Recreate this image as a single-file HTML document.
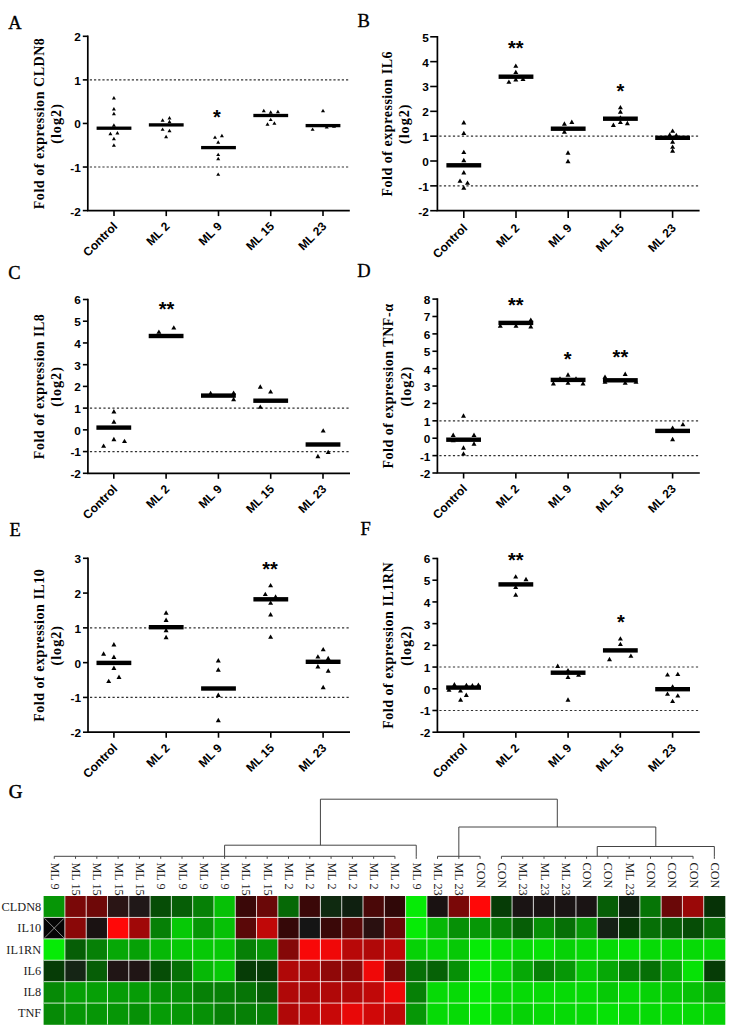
<!DOCTYPE html>
<html><head><meta charset="utf-8"><style>
html,body{margin:0;padding:0;background:#fff;}
svg{display:block;}
</style></head><body>
<svg width="730" height="1025" viewBox="0 0 730 1025">
<rect width="730" height="1025" fill="#fff"/>
<text x="8.3" y="28.6" stroke="#000" stroke-width="0.35" style='font-family:"Liberation Serif",serif;font-size:18.5px'>A</text>
<line x1="89.8" y1="79.88" x2="349.8" y2="79.88" stroke="#333" stroke-width="1.1" stroke-dasharray="2.2 2"/>
<line x1="89.8" y1="167.03" x2="349.8" y2="167.03" stroke="#333" stroke-width="1.1" stroke-dasharray="2.2 2"/>
<path d="M87.8 35.5V210.6H349.8" fill="none" stroke="#000" stroke-width="1.7"/>
<line x1="82.8" y1="210.6" x2="87.8" y2="210.6" stroke="#000" stroke-width="1.6"/>
<text x="80.8" y="215.5" text-anchor="end" style='font-family:"Liberation Sans",sans-serif;font-weight:bold;font-size:11.8px'>-2</text>
<line x1="82.8" y1="167.03" x2="87.8" y2="167.03" stroke="#000" stroke-width="1.6"/>
<text x="80.8" y="171.93" text-anchor="end" style='font-family:"Liberation Sans",sans-serif;font-weight:bold;font-size:11.8px'>-1</text>
<line x1="82.8" y1="123.45" x2="87.8" y2="123.45" stroke="#000" stroke-width="1.6"/>
<text x="80.8" y="128.35" text-anchor="end" style='font-family:"Liberation Sans",sans-serif;font-weight:bold;font-size:11.8px'>0</text>
<line x1="82.8" y1="79.88" x2="87.8" y2="79.88" stroke="#000" stroke-width="1.6"/>
<text x="80.8" y="84.78" text-anchor="end" style='font-family:"Liberation Sans",sans-serif;font-weight:bold;font-size:11.8px'>1</text>
<line x1="82.8" y1="36.3" x2="87.8" y2="36.3" stroke="#000" stroke-width="1.6"/>
<text x="80.8" y="41.2" text-anchor="end" style='font-family:"Liberation Sans",sans-serif;font-weight:bold;font-size:11.8px'>2</text>
<line x1="114" y1="210.6" x2="114" y2="216.1" stroke="#000" stroke-width="1.6"/>
<text transform="translate(118.2,227.1) rotate(-45)" text-anchor="end" style='font-family:"Liberation Sans",sans-serif;font-weight:bold;font-size:12px'>Control</text>
<line x1="166.25" y1="210.6" x2="166.25" y2="216.1" stroke="#000" stroke-width="1.6"/>
<text transform="translate(170.45,227.1) rotate(-45)" text-anchor="end" style='font-family:"Liberation Sans",sans-serif;font-weight:bold;font-size:12px'>ML 2</text>
<line x1="218.5" y1="210.6" x2="218.5" y2="216.1" stroke="#000" stroke-width="1.6"/>
<text transform="translate(222.7,227.1) rotate(-45)" text-anchor="end" style='font-family:"Liberation Sans",sans-serif;font-weight:bold;font-size:12px'>ML 9</text>
<line x1="270.75" y1="210.6" x2="270.75" y2="216.1" stroke="#000" stroke-width="1.6"/>
<text transform="translate(274.95,227.1) rotate(-45)" text-anchor="end" style='font-family:"Liberation Sans",sans-serif;font-weight:bold;font-size:12px'>ML 15</text>
<line x1="323" y1="210.6" x2="323" y2="216.1" stroke="#000" stroke-width="1.6"/>
<text transform="translate(327.2,227.1) rotate(-45)" text-anchor="end" style='font-family:"Liberation Sans",sans-serif;font-weight:bold;font-size:12px'>ML 23</text>
<text transform="translate(43.5,123.45) rotate(-90)" text-anchor="middle" style='font-family:"Liberation Serif",serif;font-weight:bold;font-size:14px;letter-spacing:0.53px'>Fold of expression CLDN8</text>
<text transform="translate(61.3,123.45) rotate(-90)" text-anchor="middle" style='font-family:"Liberation Serif",serif;font-weight:bold;font-size:14.2px;letter-spacing:1.0px'>(log2)</text>
<path d="M113.9 96.06l2 3.4h-4z"/>
<path d="M113.9 107.06l2 3.4h-4z"/>
<path d="M113.9 111.86l2 3.4h-4z"/>
<path d="M113.9 123.36l2 3.4h-4z"/>
<path d="M110.4 131.86l2 3.4h-4z"/>
<path d="M117.4 131.06l2 3.4h-4z"/>
<path d="M113.9 136.76l2 3.4h-4z"/>
<path d="M113.9 143.26l2 3.4h-4z"/>
<rect x="96.6" y="126.55" width="34.8" height="3.3"/>
<path d="M162.6 118.26l2 3.4h-4z"/>
<path d="M169.5 116.06l2 3.4h-4z"/>
<path d="M169.5 119.76l2 3.4h-4z"/>
<path d="M162.6 127.46l2 3.4h-4z"/>
<path d="M169.5 128.76l2 3.4h-4z"/>
<path d="M166.1 134.86l2 3.4h-4z"/>
<rect x="148.85" y="123.25" width="34.8" height="3.3"/>
<path d="M215 135.46l2 3.4h-4z"/>
<path d="M221.9 133.76l2 3.4h-4z"/>
<path d="M218.2 140.36l2 3.4h-4z"/>
<path d="M218.2 152.66l2 3.4h-4z"/>
<path d="M218.2 156.86l2 3.4h-4z"/>
<path d="M218.2 172.46l2 3.4h-4z"/>
<rect x="201.1" y="145.95" width="34.8" height="3.3"/>
<text x="217" y="123.8" text-anchor="middle" style='font-family:"Liberation Sans",sans-serif;font-weight:bold;font-size:20px'>*</text>
<path d="M263.8 108.86l2 3.4h-4z"/>
<path d="M270.7 110.26l2 3.4h-4z"/>
<path d="M277.9 109.76l2 3.4h-4z"/>
<path d="M270.7 117.66l2 3.4h-4z"/>
<path d="M267.5 122.36l2 3.4h-4z"/>
<path d="M274.4 121.36l2 3.4h-4z"/>
<rect x="253.35" y="113.85" width="34.8" height="3.3"/>
<path d="M323 108.86l2 3.4h-4z"/>
<path d="M312.6 127.46l2 3.4h-4z"/>
<path d="M326.7 125.06l2 3.4h-4z"/>
<path d="M334 124.36l2 3.4h-4z"/>
<rect x="305.6" y="123.95" width="34.8" height="3.3"/>
<text x="357.5" y="27.2" stroke="#000" stroke-width="0.35" style='font-family:"Liberation Serif",serif;font-size:18.5px'>B</text>
<line x1="439.4" y1="136.17" x2="699.6" y2="136.17" stroke="#333" stroke-width="1.1" stroke-dasharray="2.2 2.3"/>
<line x1="439.4" y1="185.86" x2="699.6" y2="185.86" stroke="#333" stroke-width="1.1" stroke-dasharray="2.2 2.3"/>
<path d="M437.4 36V210.7H699.6" fill="none" stroke="#000" stroke-width="1.7"/>
<line x1="430.2" y1="210.7" x2="437.4" y2="210.7" stroke="#000" stroke-width="1.6"/>
<text x="428.78" y="215.6" text-anchor="end" style='font-family:"Liberation Sans",sans-serif;font-weight:bold;font-size:11.8px'>-2</text>
<line x1="430.2" y1="185.86" x2="437.4" y2="185.86" stroke="#000" stroke-width="1.6"/>
<text x="428.78" y="190.76" text-anchor="end" style='font-family:"Liberation Sans",sans-serif;font-weight:bold;font-size:11.8px'>-1</text>
<line x1="430.2" y1="161.01" x2="437.4" y2="161.01" stroke="#000" stroke-width="1.6"/>
<text x="428.78" y="165.91" text-anchor="end" style='font-family:"Liberation Sans",sans-serif;font-weight:bold;font-size:11.8px'>0</text>
<line x1="430.2" y1="136.17" x2="437.4" y2="136.17" stroke="#000" stroke-width="1.6"/>
<text x="428.78" y="141.07" text-anchor="end" style='font-family:"Liberation Sans",sans-serif;font-weight:bold;font-size:11.8px'>1</text>
<line x1="430.2" y1="111.33" x2="437.4" y2="111.33" stroke="#000" stroke-width="1.6"/>
<text x="428.78" y="116.23" text-anchor="end" style='font-family:"Liberation Sans",sans-serif;font-weight:bold;font-size:11.8px'>2</text>
<line x1="430.2" y1="86.49" x2="437.4" y2="86.49" stroke="#000" stroke-width="1.6"/>
<text x="428.78" y="91.39" text-anchor="end" style='font-family:"Liberation Sans",sans-serif;font-weight:bold;font-size:11.8px'>3</text>
<line x1="430.2" y1="61.64" x2="437.4" y2="61.64" stroke="#000" stroke-width="1.6"/>
<text x="428.78" y="66.54" text-anchor="end" style='font-family:"Liberation Sans",sans-serif;font-weight:bold;font-size:11.8px'>4</text>
<line x1="430.2" y1="36.8" x2="437.4" y2="36.8" stroke="#000" stroke-width="1.6"/>
<text x="428.78" y="41.7" text-anchor="end" style='font-family:"Liberation Sans",sans-serif;font-weight:bold;font-size:11.8px'>5</text>
<line x1="463.8" y1="210.7" x2="463.8" y2="217.9" stroke="#000" stroke-width="1.6"/>
<text transform="translate(468,228.9) rotate(-45)" text-anchor="end" style='font-family:"Liberation Sans",sans-serif;font-weight:bold;font-size:12px'>Control</text>
<line x1="516" y1="210.7" x2="516" y2="217.9" stroke="#000" stroke-width="1.6"/>
<text transform="translate(520.2,228.9) rotate(-45)" text-anchor="end" style='font-family:"Liberation Sans",sans-serif;font-weight:bold;font-size:12px'>ML 2</text>
<line x1="568.2" y1="210.7" x2="568.2" y2="217.9" stroke="#000" stroke-width="1.6"/>
<text transform="translate(572.4,228.9) rotate(-45)" text-anchor="end" style='font-family:"Liberation Sans",sans-serif;font-weight:bold;font-size:12px'>ML 9</text>
<line x1="620.4" y1="210.7" x2="620.4" y2="217.9" stroke="#000" stroke-width="1.6"/>
<text transform="translate(624.6,228.9) rotate(-45)" text-anchor="end" style='font-family:"Liberation Sans",sans-serif;font-weight:bold;font-size:12px'>ML 15</text>
<line x1="672.6" y1="210.7" x2="672.6" y2="217.9" stroke="#000" stroke-width="1.6"/>
<text transform="translate(676.8,228.9) rotate(-45)" text-anchor="end" style='font-family:"Liberation Sans",sans-serif;font-weight:bold;font-size:12px'>ML 23</text>
<text transform="translate(391.5,123.75) rotate(-90)" text-anchor="middle" style='font-family:"Liberation Serif",serif;font-weight:bold;font-size:14px;letter-spacing:0.53px'>Fold of expression IL6</text>
<text transform="translate(409.1,123.75) rotate(-90)" text-anchor="middle" style='font-family:"Liberation Serif",serif;font-weight:bold;font-size:14.2px;letter-spacing:1.0px'>(log2)</text>
<path d="M463.8 120.06l2.5 4.4h-5z"/>
<path d="M463.8 130.66l2.5 4.4h-5z"/>
<path d="M463.8 149.66l2.5 4.4h-5z"/>
<path d="M463.8 157.76l2.5 4.4h-5z"/>
<path d="M463.8 170.06l2.5 4.4h-5z"/>
<path d="M460 178.46l2.5 4.4h-5z"/>
<path d="M467.5 180.46l2.5 4.4h-5z"/>
<path d="M463.8 185.36l2.5 4.4h-5z"/>
<rect x="446.4" y="163.1" width="34.8" height="4.4"/>
<path d="M515.8 63.46l2.5 4.4h-5z"/>
<path d="M515.8 69.66l2.5 4.4h-5z"/>
<path d="M508.9 79.46l2.5 4.4h-5z"/>
<path d="M515.8 77.06l2.5 4.4h-5z"/>
<path d="M523 76.56l2.5 4.4h-5z"/>
<rect x="498.6" y="74.5" width="34.8" height="4.4"/>
<text x="515.8" y="55.1" text-anchor="middle" style='font-family:"Liberation Sans",sans-serif;font-weight:bold;font-size:20px'>**</text>
<path d="M564.4 121.26l2.5 4.4h-5z"/>
<path d="M571.8 119.56l2.5 4.4h-5z"/>
<path d="M564.4 129.36l2.5 4.4h-5z"/>
<path d="M568 150.36l2.5 4.4h-5z"/>
<path d="M568 158.76l2.5 4.4h-5z"/>
<rect x="550.8" y="126.5" width="34.8" height="4.4"/>
<path d="M620.4 104.96l2.5 4.4h-5z"/>
<path d="M620.4 109.36l2.5 4.4h-5z"/>
<path d="M620.4 115.26l2.5 4.4h-5z"/>
<path d="M613.4 122.56l2.5 4.4h-5z"/>
<path d="M620.4 119.66l2.5 4.4h-5z"/>
<path d="M627.4 120.76l2.5 4.4h-5z"/>
<rect x="603" y="116.5" width="34.8" height="4.4"/>
<text x="620.4" y="97.5" text-anchor="middle" style='font-family:"Liberation Sans",sans-serif;font-weight:bold;font-size:20px'>*</text>
<path d="M672.6 128.46l2.5 4.4h-5z"/>
<path d="M669.7 132.36l2.5 4.4h-5z"/>
<path d="M676.3 132.86l2.5 4.4h-5z"/>
<path d="M672.6 139.36l2.5 4.4h-5z"/>
<path d="M672.6 144.46l2.5 4.4h-5z"/>
<path d="M672.6 148.36l2.5 4.4h-5z"/>
<rect x="655.2" y="135.6" width="34.8" height="4.4"/>
<text x="8.3" y="278.7" stroke="#000" stroke-width="0.35" style='font-family:"Liberation Serif",serif;font-size:18.5px'>C</text>
<line x1="89.9" y1="408.12" x2="350" y2="408.12" stroke="#333" stroke-width="1.1" stroke-dasharray="2.2 2.3"/>
<line x1="89.9" y1="451.58" x2="350" y2="451.58" stroke="#333" stroke-width="1.1" stroke-dasharray="2.2 2.3"/>
<path d="M87.9 298.7V473.3H350" fill="none" stroke="#000" stroke-width="1.7"/>
<line x1="82.9" y1="473.3" x2="87.9" y2="473.3" stroke="#000" stroke-width="1.6"/>
<text x="80.9" y="478.2" text-anchor="end" style='font-family:"Liberation Sans",sans-serif;font-weight:bold;font-size:11.8px'>-2</text>
<line x1="82.9" y1="451.58" x2="87.9" y2="451.58" stroke="#000" stroke-width="1.6"/>
<text x="80.9" y="456.48" text-anchor="end" style='font-family:"Liberation Sans",sans-serif;font-weight:bold;font-size:11.8px'>-1</text>
<line x1="82.9" y1="429.85" x2="87.9" y2="429.85" stroke="#000" stroke-width="1.6"/>
<text x="80.9" y="434.75" text-anchor="end" style='font-family:"Liberation Sans",sans-serif;font-weight:bold;font-size:11.8px'>0</text>
<line x1="82.9" y1="408.12" x2="87.9" y2="408.12" stroke="#000" stroke-width="1.6"/>
<text x="80.9" y="413.02" text-anchor="end" style='font-family:"Liberation Sans",sans-serif;font-weight:bold;font-size:11.8px'>1</text>
<line x1="82.9" y1="386.4" x2="87.9" y2="386.4" stroke="#000" stroke-width="1.6"/>
<text x="80.9" y="391.3" text-anchor="end" style='font-family:"Liberation Sans",sans-serif;font-weight:bold;font-size:11.8px'>2</text>
<line x1="82.9" y1="364.68" x2="87.9" y2="364.68" stroke="#000" stroke-width="1.6"/>
<text x="80.9" y="369.57" text-anchor="end" style='font-family:"Liberation Sans",sans-serif;font-weight:bold;font-size:11.8px'>3</text>
<line x1="82.9" y1="342.95" x2="87.9" y2="342.95" stroke="#000" stroke-width="1.6"/>
<text x="80.9" y="347.85" text-anchor="end" style='font-family:"Liberation Sans",sans-serif;font-weight:bold;font-size:11.8px'>4</text>
<line x1="82.9" y1="321.23" x2="87.9" y2="321.23" stroke="#000" stroke-width="1.6"/>
<text x="80.9" y="326.12" text-anchor="end" style='font-family:"Liberation Sans",sans-serif;font-weight:bold;font-size:11.8px'>5</text>
<line x1="82.9" y1="299.5" x2="87.9" y2="299.5" stroke="#000" stroke-width="1.6"/>
<text x="80.9" y="304.4" text-anchor="end" style='font-family:"Liberation Sans",sans-serif;font-weight:bold;font-size:11.8px'>6</text>
<line x1="113.8" y1="473.3" x2="113.8" y2="478.8" stroke="#000" stroke-width="1.6"/>
<text transform="translate(118,489.8) rotate(-45)" text-anchor="end" style='font-family:"Liberation Sans",sans-serif;font-weight:bold;font-size:12px'>Control</text>
<line x1="166.1" y1="473.3" x2="166.1" y2="478.8" stroke="#000" stroke-width="1.6"/>
<text transform="translate(170.3,489.8) rotate(-45)" text-anchor="end" style='font-family:"Liberation Sans",sans-serif;font-weight:bold;font-size:12px'>ML 2</text>
<line x1="218.4" y1="473.3" x2="218.4" y2="478.8" stroke="#000" stroke-width="1.6"/>
<text transform="translate(222.6,489.8) rotate(-45)" text-anchor="end" style='font-family:"Liberation Sans",sans-serif;font-weight:bold;font-size:12px'>ML 9</text>
<line x1="270.7" y1="473.3" x2="270.7" y2="478.8" stroke="#000" stroke-width="1.6"/>
<text transform="translate(274.9,489.8) rotate(-45)" text-anchor="end" style='font-family:"Liberation Sans",sans-serif;font-weight:bold;font-size:12px'>ML 15</text>
<line x1="323" y1="473.3" x2="323" y2="478.8" stroke="#000" stroke-width="1.6"/>
<text transform="translate(327.2,489.8) rotate(-45)" text-anchor="end" style='font-family:"Liberation Sans",sans-serif;font-weight:bold;font-size:12px'>ML 23</text>
<text transform="translate(43.5,386.4) rotate(-90)" text-anchor="middle" style='font-family:"Liberation Serif",serif;font-weight:bold;font-size:14px;letter-spacing:0.53px'>Fold of expression IL8</text>
<text transform="translate(61.3,386.4) rotate(-90)" text-anchor="middle" style='font-family:"Liberation Serif",serif;font-weight:bold;font-size:14.2px;letter-spacing:1.0px'>(log2)</text>
<path d="M113.9 409.06l2.5 4.4h-5z"/>
<path d="M113.9 419.36l2.5 4.4h-5z"/>
<path d="M103.6 443.46l2.5 4.4h-5z"/>
<path d="M113.9 436.86l2.5 4.4h-5z"/>
<path d="M124.5 438.66l2.5 4.4h-5z"/>
<rect x="96.4" y="425.4" width="34.8" height="4.4"/>
<path d="M158.9 329.46l2.5 4.4h-5z"/>
<path d="M173.8 325.16l2.5 4.4h-5z"/>
<rect x="148.7" y="333.8" width="34.8" height="4.4"/>
<text x="166.5" y="315.9" text-anchor="middle" style='font-family:"Liberation Sans",sans-serif;font-weight:bold;font-size:20px'>**</text>
<path d="M210.6 390.86l2.5 4.4h-5z"/>
<path d="M233.6 390.46l2.5 4.4h-5z"/>
<path d="M233.6 396.86l2.5 4.4h-5z"/>
<rect x="201" y="393.4" width="34.8" height="4.4"/>
<path d="M260.3 384.26l2.5 4.4h-5z"/>
<path d="M270.6 389.16l2.5 4.4h-5z"/>
<path d="M260.3 404.46l2.5 4.4h-5z"/>
<rect x="253.3" y="398.5" width="34.8" height="4.4"/>
<path d="M323.2 428.16l2.5 4.4h-5z"/>
<path d="M317.9 453.76l2.5 4.4h-5z"/>
<path d="M328.2 449.66l2.5 4.4h-5z"/>
<rect x="305.6" y="442.3" width="34.8" height="4.4"/>
<text x="357.3" y="277.1" stroke="#000" stroke-width="0.35" style='font-family:"Liberation Serif",serif;font-size:18.5px'>D</text>
<line x1="439.4" y1="420.83" x2="699.8" y2="420.83" stroke="#333" stroke-width="1.1" stroke-dasharray="2.2 2.3"/>
<line x1="439.4" y1="455.61" x2="699.8" y2="455.61" stroke="#333" stroke-width="1.1" stroke-dasharray="2.2 2.3"/>
<path d="M437.4 298.3V473H699.8" fill="none" stroke="#000" stroke-width="1.7"/>
<line x1="432.4" y1="473" x2="437.4" y2="473" stroke="#000" stroke-width="1.6"/>
<text x="430.4" y="477.9" text-anchor="end" style='font-family:"Liberation Sans",sans-serif;font-weight:bold;font-size:11.8px'>-2</text>
<line x1="432.4" y1="455.61" x2="437.4" y2="455.61" stroke="#000" stroke-width="1.6"/>
<text x="430.4" y="460.51" text-anchor="end" style='font-family:"Liberation Sans",sans-serif;font-weight:bold;font-size:11.8px'>-1</text>
<line x1="432.4" y1="438.22" x2="437.4" y2="438.22" stroke="#000" stroke-width="1.6"/>
<text x="430.4" y="443.12" text-anchor="end" style='font-family:"Liberation Sans",sans-serif;font-weight:bold;font-size:11.8px'>0</text>
<line x1="432.4" y1="420.83" x2="437.4" y2="420.83" stroke="#000" stroke-width="1.6"/>
<text x="430.4" y="425.73" text-anchor="end" style='font-family:"Liberation Sans",sans-serif;font-weight:bold;font-size:11.8px'>1</text>
<line x1="432.4" y1="403.44" x2="437.4" y2="403.44" stroke="#000" stroke-width="1.6"/>
<text x="430.4" y="408.34" text-anchor="end" style='font-family:"Liberation Sans",sans-serif;font-weight:bold;font-size:11.8px'>2</text>
<line x1="432.4" y1="386.05" x2="437.4" y2="386.05" stroke="#000" stroke-width="1.6"/>
<text x="430.4" y="390.95" text-anchor="end" style='font-family:"Liberation Sans",sans-serif;font-weight:bold;font-size:11.8px'>3</text>
<line x1="432.4" y1="368.66" x2="437.4" y2="368.66" stroke="#000" stroke-width="1.6"/>
<text x="430.4" y="373.56" text-anchor="end" style='font-family:"Liberation Sans",sans-serif;font-weight:bold;font-size:11.8px'>4</text>
<line x1="432.4" y1="351.27" x2="437.4" y2="351.27" stroke="#000" stroke-width="1.6"/>
<text x="430.4" y="356.17" text-anchor="end" style='font-family:"Liberation Sans",sans-serif;font-weight:bold;font-size:11.8px'>5</text>
<line x1="432.4" y1="333.88" x2="437.4" y2="333.88" stroke="#000" stroke-width="1.6"/>
<text x="430.4" y="338.78" text-anchor="end" style='font-family:"Liberation Sans",sans-serif;font-weight:bold;font-size:11.8px'>6</text>
<line x1="432.4" y1="316.49" x2="437.4" y2="316.49" stroke="#000" stroke-width="1.6"/>
<text x="430.4" y="321.39" text-anchor="end" style='font-family:"Liberation Sans",sans-serif;font-weight:bold;font-size:11.8px'>7</text>
<line x1="432.4" y1="299.1" x2="437.4" y2="299.1" stroke="#000" stroke-width="1.6"/>
<text x="430.4" y="304" text-anchor="end" style='font-family:"Liberation Sans",sans-serif;font-weight:bold;font-size:11.8px'>8</text>
<line x1="463.6" y1="473" x2="463.6" y2="478.5" stroke="#000" stroke-width="1.6"/>
<text transform="translate(467.8,489.5) rotate(-45)" text-anchor="end" style='font-family:"Liberation Sans",sans-serif;font-weight:bold;font-size:12px'>Control</text>
<line x1="515.85" y1="473" x2="515.85" y2="478.5" stroke="#000" stroke-width="1.6"/>
<text transform="translate(520.05,489.5) rotate(-45)" text-anchor="end" style='font-family:"Liberation Sans",sans-serif;font-weight:bold;font-size:12px'>ML 2</text>
<line x1="568.1" y1="473" x2="568.1" y2="478.5" stroke="#000" stroke-width="1.6"/>
<text transform="translate(572.3,489.5) rotate(-45)" text-anchor="end" style='font-family:"Liberation Sans",sans-serif;font-weight:bold;font-size:12px'>ML 9</text>
<line x1="620.35" y1="473" x2="620.35" y2="478.5" stroke="#000" stroke-width="1.6"/>
<text transform="translate(624.55,489.5) rotate(-45)" text-anchor="end" style='font-family:"Liberation Sans",sans-serif;font-weight:bold;font-size:12px'>ML 15</text>
<line x1="672.6" y1="473" x2="672.6" y2="478.5" stroke="#000" stroke-width="1.6"/>
<text transform="translate(676.8,489.5) rotate(-45)" text-anchor="end" style='font-family:"Liberation Sans",sans-serif;font-weight:bold;font-size:12px'>ML 23</text>
<text transform="translate(393.3,386.05) rotate(-90)" text-anchor="middle" style='font-family:"Liberation Serif",serif;font-weight:bold;font-size:14px;letter-spacing:0.53px'>Fold of expression TNF-α</text>
<text transform="translate(411.2,386.05) rotate(-90)" text-anchor="middle" style='font-family:"Liberation Serif",serif;font-weight:bold;font-size:14.2px;letter-spacing:1.0px'>(log2)</text>
<path d="M463.5 413.26l2.5 4.4h-5z"/>
<path d="M453.2 432.56l2.5 4.4h-5z"/>
<path d="M474 432.56l2.5 4.4h-5z"/>
<path d="M474 441.26l2.5 4.4h-5z"/>
<path d="M463.5 445.26l2.5 4.4h-5z"/>
<path d="M463.5 451.16l2.5 4.4h-5z"/>
<path d="M453.2 437.96l2.5 4.4h-5z"/>
<rect x="446.2" y="437.5" width="34.8" height="4.4"/>
<path d="M530.8 317.46l2.5 4.4h-5z"/>
<path d="M530.8 324.06l2.5 4.4h-5z"/>
<path d="M500.3 323.36l2.5 4.4h-5z"/>
<path d="M516 323.36l2.5 4.4h-5z"/>
<rect x="498.45" y="320.7" width="34.8" height="4.4"/>
<text x="515.7" y="311.5" text-anchor="middle" style='font-family:"Liberation Sans",sans-serif;font-weight:bold;font-size:20px'>**</text>
<path d="M568 372.26l2.5 4.4h-5z"/>
<path d="M553.4 381.06l2.5 4.4h-5z"/>
<path d="M583 381.06l2.5 4.4h-5z"/>
<path d="M568 380.36l2.5 4.4h-5z"/>
<path d="M560 376.36l2.5 4.4h-5z"/>
<path d="M576 376.36l2.5 4.4h-5z"/>
<rect x="550.7" y="377.7" width="34.8" height="4.4"/>
<text x="567.6" y="366.3" text-anchor="middle" style='font-family:"Liberation Sans",sans-serif;font-weight:bold;font-size:20px'>*</text>
<path d="M605 374.46l2.5 4.4h-5z"/>
<path d="M625.2 371.56l2.5 4.4h-5z"/>
<path d="M605 379.46l2.5 4.4h-5z"/>
<path d="M625.2 380.36l2.5 4.4h-5z"/>
<path d="M636 379.36l2.5 4.4h-5z"/>
<rect x="602.95" y="378.1" width="34.8" height="4.4"/>
<text x="620.4" y="363.5" text-anchor="middle" style='font-family:"Liberation Sans",sans-serif;font-weight:bold;font-size:20px'>**</text>
<path d="M672.6 425.46l2.5 4.4h-5z"/>
<path d="M682.9 421.96l2.5 4.4h-5z"/>
<path d="M672.6 436.86l2.5 4.4h-5z"/>
<rect x="655.2" y="428.7" width="34.8" height="4.4"/>
<text x="9.6" y="536.4" stroke="#000" stroke-width="0.35" style='font-family:"Liberation Serif",serif;font-size:18.5px'>E</text>
<line x1="90" y1="627.86" x2="350" y2="627.86" stroke="#333" stroke-width="1.1" stroke-dasharray="2.2 2.3"/>
<line x1="90" y1="697.42" x2="350" y2="697.42" stroke="#333" stroke-width="1.1" stroke-dasharray="2.2 2.3"/>
<path d="M88 557.5V732.2H350" fill="none" stroke="#000" stroke-width="1.7"/>
<line x1="83" y1="732.2" x2="88" y2="732.2" stroke="#000" stroke-width="1.6"/>
<text x="81" y="737.1" text-anchor="end" style='font-family:"Liberation Sans",sans-serif;font-weight:bold;font-size:11.8px'>-2</text>
<line x1="83" y1="697.42" x2="88" y2="697.42" stroke="#000" stroke-width="1.6"/>
<text x="81" y="702.32" text-anchor="end" style='font-family:"Liberation Sans",sans-serif;font-weight:bold;font-size:11.8px'>-1</text>
<line x1="83" y1="662.64" x2="88" y2="662.64" stroke="#000" stroke-width="1.6"/>
<text x="81" y="667.54" text-anchor="end" style='font-family:"Liberation Sans",sans-serif;font-weight:bold;font-size:11.8px'>0</text>
<line x1="83" y1="627.86" x2="88" y2="627.86" stroke="#000" stroke-width="1.6"/>
<text x="81" y="632.76" text-anchor="end" style='font-family:"Liberation Sans",sans-serif;font-weight:bold;font-size:11.8px'>1</text>
<line x1="83" y1="593.08" x2="88" y2="593.08" stroke="#000" stroke-width="1.6"/>
<text x="81" y="597.98" text-anchor="end" style='font-family:"Liberation Sans",sans-serif;font-weight:bold;font-size:11.8px'>2</text>
<line x1="83" y1="558.3" x2="88" y2="558.3" stroke="#000" stroke-width="1.6"/>
<text x="81" y="563.2" text-anchor="end" style='font-family:"Liberation Sans",sans-serif;font-weight:bold;font-size:11.8px'>3</text>
<line x1="113.9" y1="732.2" x2="113.9" y2="737.7" stroke="#000" stroke-width="1.6"/>
<text transform="translate(118.1,748.7) rotate(-45)" text-anchor="end" style='font-family:"Liberation Sans",sans-serif;font-weight:bold;font-size:12px'>Control</text>
<line x1="166.2" y1="732.2" x2="166.2" y2="737.7" stroke="#000" stroke-width="1.6"/>
<text transform="translate(170.4,748.7) rotate(-45)" text-anchor="end" style='font-family:"Liberation Sans",sans-serif;font-weight:bold;font-size:12px'>ML 2</text>
<line x1="218.5" y1="732.2" x2="218.5" y2="737.7" stroke="#000" stroke-width="1.6"/>
<text transform="translate(222.7,748.7) rotate(-45)" text-anchor="end" style='font-family:"Liberation Sans",sans-serif;font-weight:bold;font-size:12px'>ML 9</text>
<line x1="270.8" y1="732.2" x2="270.8" y2="737.7" stroke="#000" stroke-width="1.6"/>
<text transform="translate(275,748.7) rotate(-45)" text-anchor="end" style='font-family:"Liberation Sans",sans-serif;font-weight:bold;font-size:12px'>ML 15</text>
<line x1="323.1" y1="732.2" x2="323.1" y2="737.7" stroke="#000" stroke-width="1.6"/>
<text transform="translate(327.3,748.7) rotate(-45)" text-anchor="end" style='font-family:"Liberation Sans",sans-serif;font-weight:bold;font-size:12px'>ML 23</text>
<text transform="translate(43.5,645.25) rotate(-90)" text-anchor="middle" style='font-family:"Liberation Serif",serif;font-weight:bold;font-size:14px;letter-spacing:0.53px'>Fold of expression IL10</text>
<text transform="translate(61.3,645.25) rotate(-90)" text-anchor="middle" style='font-family:"Liberation Serif",serif;font-weight:bold;font-size:14.2px;letter-spacing:1.0px'>(log2)</text>
<path d="M113.9 642.06l2.5 4.4h-5z"/>
<path d="M103.6 651.36l2.5 4.4h-5z"/>
<path d="M113.9 654.56l2.5 4.4h-5z"/>
<path d="M113.9 665.56l2.5 4.4h-5z"/>
<path d="M119 674.56l2.5 4.4h-5z"/>
<path d="M108.7 678.66l2.5 4.4h-5z"/>
<rect x="96.5" y="660.7" width="34.8" height="4.4"/>
<path d="M166.1 610.36l2.5 4.4h-5z"/>
<path d="M166.1 617.56l2.5 4.4h-5z"/>
<path d="M166.1 627.86l2.5 4.4h-5z"/>
<path d="M166.1 634.86l2.5 4.4h-5z"/>
<rect x="148.8" y="625" width="34.8" height="4.4"/>
<path d="M218.3 658.06l2.5 4.4h-5z"/>
<path d="M218.3 667.36l2.5 4.4h-5z"/>
<path d="M218.3 692.56l2.5 4.4h-5z"/>
<path d="M218.3 717.76l2.5 4.4h-5z"/>
<rect x="201.1" y="686.3" width="34.8" height="4.4"/>
<path d="M270.6 582.96l2.5 4.4h-5z"/>
<path d="M265.3 591.66l2.5 4.4h-5z"/>
<path d="M275.6 594.36l2.5 4.4h-5z"/>
<path d="M270.6 600.46l2.5 4.4h-5z"/>
<path d="M270.6 612.06l2.5 4.4h-5z"/>
<path d="M270.6 634.46l2.5 4.4h-5z"/>
<rect x="253.4" y="597.1" width="34.8" height="4.4"/>
<text x="270.1" y="575.9" text-anchor="middle" style='font-family:"Liberation Sans",sans-serif;font-weight:bold;font-size:20px'>**</text>
<path d="M323.2 646.96l2.5 4.4h-5z"/>
<path d="M317.9 654.16l2.5 4.4h-5z"/>
<path d="M328.2 655.86l2.5 4.4h-5z"/>
<path d="M317.9 664.06l2.5 4.4h-5z"/>
<path d="M328.2 668.36l2.5 4.4h-5z"/>
<path d="M323.2 684.86l2.5 4.4h-5z"/>
<rect x="305.7" y="659.6" width="34.8" height="4.4"/>
<text x="360.6" y="534.8" stroke="#000" stroke-width="0.35" style='font-family:"Liberation Serif",serif;font-size:18.5px'>F</text>
<line x1="439.4" y1="667.06" x2="699.8" y2="667.06" stroke="#333" stroke-width="1.1" stroke-dasharray="2.2 2.3"/>
<line x1="439.4" y1="710.49" x2="699.8" y2="710.49" stroke="#333" stroke-width="1.1" stroke-dasharray="2.2 2.3"/>
<path d="M437.4 557.7V732.2H699.8" fill="none" stroke="#000" stroke-width="1.7"/>
<line x1="432.4" y1="732.2" x2="437.4" y2="732.2" stroke="#000" stroke-width="1.6"/>
<text x="430.4" y="737.1" text-anchor="end" style='font-family:"Liberation Sans",sans-serif;font-weight:bold;font-size:11.8px'>-2</text>
<line x1="432.4" y1="710.49" x2="437.4" y2="710.49" stroke="#000" stroke-width="1.6"/>
<text x="430.4" y="715.39" text-anchor="end" style='font-family:"Liberation Sans",sans-serif;font-weight:bold;font-size:11.8px'>-1</text>
<line x1="432.4" y1="688.78" x2="437.4" y2="688.78" stroke="#000" stroke-width="1.6"/>
<text x="430.4" y="693.68" text-anchor="end" style='font-family:"Liberation Sans",sans-serif;font-weight:bold;font-size:11.8px'>0</text>
<line x1="432.4" y1="667.06" x2="437.4" y2="667.06" stroke="#000" stroke-width="1.6"/>
<text x="430.4" y="671.96" text-anchor="end" style='font-family:"Liberation Sans",sans-serif;font-weight:bold;font-size:11.8px'>1</text>
<line x1="432.4" y1="645.35" x2="437.4" y2="645.35" stroke="#000" stroke-width="1.6"/>
<text x="430.4" y="650.25" text-anchor="end" style='font-family:"Liberation Sans",sans-serif;font-weight:bold;font-size:11.8px'>2</text>
<line x1="432.4" y1="623.64" x2="437.4" y2="623.64" stroke="#000" stroke-width="1.6"/>
<text x="430.4" y="628.54" text-anchor="end" style='font-family:"Liberation Sans",sans-serif;font-weight:bold;font-size:11.8px'>3</text>
<line x1="432.4" y1="601.92" x2="437.4" y2="601.92" stroke="#000" stroke-width="1.6"/>
<text x="430.4" y="606.82" text-anchor="end" style='font-family:"Liberation Sans",sans-serif;font-weight:bold;font-size:11.8px'>4</text>
<line x1="432.4" y1="580.21" x2="437.4" y2="580.21" stroke="#000" stroke-width="1.6"/>
<text x="430.4" y="585.11" text-anchor="end" style='font-family:"Liberation Sans",sans-serif;font-weight:bold;font-size:11.8px'>5</text>
<line x1="432.4" y1="558.5" x2="437.4" y2="558.5" stroke="#000" stroke-width="1.6"/>
<text x="430.4" y="563.4" text-anchor="end" style='font-family:"Liberation Sans",sans-serif;font-weight:bold;font-size:11.8px'>6</text>
<line x1="463.6" y1="732.2" x2="463.6" y2="737.7" stroke="#000" stroke-width="1.6"/>
<text transform="translate(467.8,748.7) rotate(-45)" text-anchor="end" style='font-family:"Liberation Sans",sans-serif;font-weight:bold;font-size:12px'>Control</text>
<line x1="515.85" y1="732.2" x2="515.85" y2="737.7" stroke="#000" stroke-width="1.6"/>
<text transform="translate(520.05,748.7) rotate(-45)" text-anchor="end" style='font-family:"Liberation Sans",sans-serif;font-weight:bold;font-size:12px'>ML 2</text>
<line x1="568.1" y1="732.2" x2="568.1" y2="737.7" stroke="#000" stroke-width="1.6"/>
<text transform="translate(572.3,748.7) rotate(-45)" text-anchor="end" style='font-family:"Liberation Sans",sans-serif;font-weight:bold;font-size:12px'>ML 9</text>
<line x1="620.35" y1="732.2" x2="620.35" y2="737.7" stroke="#000" stroke-width="1.6"/>
<text transform="translate(624.55,748.7) rotate(-45)" text-anchor="end" style='font-family:"Liberation Sans",sans-serif;font-weight:bold;font-size:12px'>ML 15</text>
<line x1="672.6" y1="732.2" x2="672.6" y2="737.7" stroke="#000" stroke-width="1.6"/>
<text transform="translate(676.8,748.7) rotate(-45)" text-anchor="end" style='font-family:"Liberation Sans",sans-serif;font-weight:bold;font-size:12px'>ML 23</text>
<text transform="translate(393.3,645.35) rotate(-90)" text-anchor="middle" style='font-family:"Liberation Serif",serif;font-weight:bold;font-size:14px;letter-spacing:0.53px'>Fold of expression IL1RN</text>
<text transform="translate(411.2,645.35) rotate(-90)" text-anchor="middle" style='font-family:"Liberation Serif",serif;font-weight:bold;font-size:14.2px;letter-spacing:1.0px'>(log2)</text>
<path d="M454.4 682.06l2.5 4.4h-5z"/>
<path d="M466.4 682.66l2.5 4.4h-5z"/>
<path d="M472.4 683.06l2.5 4.4h-5z"/>
<path d="M478.4 682.46l2.5 4.4h-5z"/>
<path d="M449 687.36l2.5 4.4h-5z"/>
<path d="M460.5 688.16l2.5 4.4h-5z"/>
<path d="M466.3 692.56l2.5 4.4h-5z"/>
<path d="M460.6 697.36l2.5 4.4h-5z"/>
<rect x="446.2" y="685.4" width="34.8" height="4.4"/>
<path d="M515.7 574.16l2.5 4.4h-5z"/>
<path d="M526 576.86l2.5 4.4h-5z"/>
<path d="M515.7 584.66l2.5 4.4h-5z"/>
<path d="M515.7 592.36l2.5 4.4h-5z"/>
<rect x="498.45" y="582.2" width="34.8" height="4.4"/>
<text x="515.7" y="567.2" text-anchor="middle" style='font-family:"Liberation Sans",sans-serif;font-weight:bold;font-size:20px'>**</text>
<path d="M557.7 663.56l2.5 4.4h-5z"/>
<path d="M568 667.96l2.5 4.4h-5z"/>
<path d="M568 674.56l2.5 4.4h-5z"/>
<path d="M578.6 672.36l2.5 4.4h-5z"/>
<path d="M568 697.36l2.5 4.4h-5z"/>
<rect x="550.7" y="670.5" width="34.8" height="4.4"/>
<path d="M620.4 636.16l2.5 4.4h-5z"/>
<path d="M620.4 641.66l2.5 4.4h-5z"/>
<path d="M609.5 656.76l2.5 4.4h-5z"/>
<path d="M630.9 653.46l2.5 4.4h-5z"/>
<rect x="602.95" y="648.2" width="34.8" height="4.4"/>
<text x="620.8" y="629.2" text-anchor="middle" style='font-family:"Liberation Sans",sans-serif;font-weight:bold;font-size:20px'>*</text>
<path d="M667.5 672.16l2.5 4.4h-5z"/>
<path d="M677.8 671.66l2.5 4.4h-5z"/>
<path d="M672.6 684.16l2.5 4.4h-5z"/>
<path d="M667.5 691.46l2.5 4.4h-5z"/>
<path d="M677.8 693.16l2.5 4.4h-5z"/>
<path d="M672.6 698.66l2.5 4.4h-5z"/>
<rect x="655.2" y="687" width="34.8" height="4.4"/>
<text x="8.7" y="797.7" stroke="#000" stroke-width="0.55" style='font-family:"Liberation Serif",serif;font-size:19px'>G</text>
<rect x="43.6" y="896" width="21.59" height="21.72" fill="#069606"/>
<rect x="43.6" y="917.42" width="21.59" height="21.72" fill="#050505"/>
<rect x="43.6" y="938.83" width="21.59" height="21.72" fill="#06eb06"/>
<rect x="43.6" y="960.25" width="21.59" height="21.72" fill="#063c06"/>
<rect x="43.6" y="981.67" width="21.59" height="21.72" fill="#068a06"/>
<rect x="43.6" y="1003.08" width="21.59" height="21.72" fill="#068a06"/>
<rect x="64.89" y="896" width="21.59" height="21.72" fill="#7a0808"/>
<rect x="64.89" y="917.42" width="21.59" height="21.72" fill="#8a0808"/>
<rect x="64.89" y="938.83" width="21.59" height="21.72" fill="#065e06"/>
<rect x="64.89" y="960.25" width="21.59" height="21.72" fill="#152515"/>
<rect x="64.89" y="981.67" width="21.59" height="21.72" fill="#06a006"/>
<rect x="64.89" y="1003.08" width="21.59" height="21.72" fill="#069606"/>
<rect x="86.19" y="896" width="21.59" height="21.72" fill="#6e0808"/>
<rect x="86.19" y="917.42" width="21.59" height="21.72" fill="#1a1212"/>
<rect x="86.19" y="938.83" width="21.59" height="21.72" fill="#068006"/>
<rect x="86.19" y="960.25" width="21.59" height="21.72" fill="#065e06"/>
<rect x="86.19" y="981.67" width="21.59" height="21.72" fill="#06a006"/>
<rect x="86.19" y="1003.08" width="21.59" height="21.72" fill="#069606"/>
<rect x="107.48" y="896" width="21.59" height="21.72" fill="#2a1515"/>
<rect x="107.48" y="917.42" width="21.59" height="21.72" fill="#ff0808"/>
<rect x="107.48" y="938.83" width="21.59" height="21.72" fill="#06a806"/>
<rect x="107.48" y="960.25" width="21.59" height="21.72" fill="#201515"/>
<rect x="107.48" y="981.67" width="21.59" height="21.72" fill="#069c06"/>
<rect x="107.48" y="1003.08" width="21.59" height="21.72" fill="#069606"/>
<rect x="128.78" y="896" width="21.59" height="21.72" fill="#201818"/>
<rect x="128.78" y="917.42" width="21.59" height="21.72" fill="#a00808"/>
<rect x="128.78" y="938.83" width="21.59" height="21.72" fill="#06a106"/>
<rect x="128.78" y="960.25" width="21.59" height="21.72" fill="#201515"/>
<rect x="128.78" y="981.67" width="21.59" height="21.72" fill="#069c06"/>
<rect x="128.78" y="1003.08" width="21.59" height="21.72" fill="#069006"/>
<rect x="150.07" y="896" width="21.59" height="21.72" fill="#064d06"/>
<rect x="150.07" y="917.42" width="21.59" height="21.72" fill="#068006"/>
<rect x="150.07" y="938.83" width="21.59" height="21.72" fill="#06b806"/>
<rect x="150.07" y="960.25" width="21.59" height="21.72" fill="#064d06"/>
<rect x="150.07" y="981.67" width="21.59" height="21.72" fill="#069006"/>
<rect x="150.07" y="1003.08" width="21.59" height="21.72" fill="#069c06"/>
<rect x="171.36" y="896" width="21.59" height="21.72" fill="#065e06"/>
<rect x="171.36" y="917.42" width="21.59" height="21.72" fill="#06c906"/>
<rect x="171.36" y="938.83" width="21.59" height="21.72" fill="#06c906"/>
<rect x="171.36" y="960.25" width="21.59" height="21.72" fill="#066f06"/>
<rect x="171.36" y="981.67" width="21.59" height="21.72" fill="#069006"/>
<rect x="171.36" y="1003.08" width="21.59" height="21.72" fill="#069606"/>
<rect x="192.66" y="896" width="21.59" height="21.72" fill="#068006"/>
<rect x="192.66" y="917.42" width="21.59" height="21.72" fill="#069606"/>
<rect x="192.66" y="938.83" width="21.59" height="21.72" fill="#06c906"/>
<rect x="192.66" y="960.25" width="21.59" height="21.72" fill="#06b806"/>
<rect x="192.66" y="981.67" width="21.59" height="21.72" fill="#068006"/>
<rect x="192.66" y="1003.08" width="21.59" height="21.72" fill="#069006"/>
<rect x="213.95" y="896" width="21.59" height="21.72" fill="#06c106"/>
<rect x="213.95" y="917.42" width="21.59" height="21.72" fill="#06c106"/>
<rect x="213.95" y="938.83" width="21.59" height="21.72" fill="#06c906"/>
<rect x="213.95" y="960.25" width="21.59" height="21.72" fill="#06c906"/>
<rect x="213.95" y="981.67" width="21.59" height="21.72" fill="#068006"/>
<rect x="213.95" y="1003.08" width="21.59" height="21.72" fill="#068006"/>
<rect x="235.24" y="896" width="21.59" height="21.72" fill="#3a0808"/>
<rect x="235.24" y="917.42" width="21.59" height="21.72" fill="#5a0808"/>
<rect x="235.24" y="938.83" width="21.59" height="21.72" fill="#068006"/>
<rect x="235.24" y="960.25" width="21.59" height="21.72" fill="#063c06"/>
<rect x="235.24" y="981.67" width="21.59" height="21.72" fill="#067506"/>
<rect x="235.24" y="1003.08" width="21.59" height="21.72" fill="#068006"/>
<rect x="256.54" y="896" width="21.59" height="21.72" fill="#6a0808"/>
<rect x="256.54" y="917.42" width="21.59" height="21.72" fill="#c00808"/>
<rect x="256.54" y="938.83" width="21.59" height="21.72" fill="#069706"/>
<rect x="256.54" y="960.25" width="21.59" height="21.72" fill="#063c06"/>
<rect x="256.54" y="981.67" width="21.59" height="21.72" fill="#065e06"/>
<rect x="256.54" y="1003.08" width="21.59" height="21.72" fill="#068006"/>
<rect x="277.83" y="896" width="21.59" height="21.72" fill="#066906"/>
<rect x="277.83" y="917.42" width="21.59" height="21.72" fill="#350808"/>
<rect x="277.83" y="938.83" width="21.59" height="21.72" fill="#850808"/>
<rect x="277.83" y="960.25" width="21.59" height="21.72" fill="#b00808"/>
<rect x="277.83" y="981.67" width="21.59" height="21.72" fill="#b00808"/>
<rect x="277.83" y="1003.08" width="21.59" height="21.72" fill="#b00808"/>
<rect x="299.12" y="896" width="21.59" height="21.72" fill="#3a0808"/>
<rect x="299.12" y="917.42" width="21.59" height="21.72" fill="#151515"/>
<rect x="299.12" y="938.83" width="21.59" height="21.72" fill="#f80808"/>
<rect x="299.12" y="960.25" width="21.59" height="21.72" fill="#b00808"/>
<rect x="299.12" y="981.67" width="21.59" height="21.72" fill="#b00808"/>
<rect x="299.12" y="1003.08" width="21.59" height="21.72" fill="#c00808"/>
<rect x="320.42" y="896" width="21.59" height="21.72" fill="#0f2a10"/>
<rect x="320.42" y="917.42" width="21.59" height="21.72" fill="#3a0808"/>
<rect x="320.42" y="938.83" width="21.59" height="21.72" fill="#f00808"/>
<rect x="320.42" y="960.25" width="21.59" height="21.72" fill="#900808"/>
<rect x="320.42" y="981.67" width="21.59" height="21.72" fill="#b00808"/>
<rect x="320.42" y="1003.08" width="21.59" height="21.72" fill="#c80808"/>
<rect x="341.71" y="896" width="21.59" height="21.72" fill="#0f2010"/>
<rect x="341.71" y="917.42" width="21.59" height="21.72" fill="#5a0808"/>
<rect x="341.71" y="938.83" width="21.59" height="21.72" fill="#b80808"/>
<rect x="341.71" y="960.25" width="21.59" height="21.72" fill="#8a0808"/>
<rect x="341.71" y="981.67" width="21.59" height="21.72" fill="#b00808"/>
<rect x="341.71" y="1003.08" width="21.59" height="21.72" fill="#e80808"/>
<rect x="363.01" y="896" width="21.59" height="21.72" fill="#4a0808"/>
<rect x="363.01" y="917.42" width="21.59" height="21.72" fill="#2a1010"/>
<rect x="363.01" y="938.83" width="21.59" height="21.72" fill="#b00808"/>
<rect x="363.01" y="960.25" width="21.59" height="21.72" fill="#f00808"/>
<rect x="363.01" y="981.67" width="21.59" height="21.72" fill="#c00808"/>
<rect x="363.01" y="1003.08" width="21.59" height="21.72" fill="#d00808"/>
<rect x="384.3" y="896" width="21.59" height="21.72" fill="#300808"/>
<rect x="384.3" y="917.42" width="21.59" height="21.72" fill="#6a0808"/>
<rect x="384.3" y="938.83" width="21.59" height="21.72" fill="#c00808"/>
<rect x="384.3" y="960.25" width="21.59" height="21.72" fill="#7a0808"/>
<rect x="384.3" y="981.67" width="21.59" height="21.72" fill="#f00808"/>
<rect x="384.3" y="1003.08" width="21.59" height="21.72" fill="#c00808"/>
<rect x="405.59" y="896" width="21.59" height="21.72" fill="#06eb06"/>
<rect x="405.59" y="917.42" width="21.59" height="21.72" fill="#06eb06"/>
<rect x="405.59" y="938.83" width="21.59" height="21.72" fill="#06d206"/>
<rect x="405.59" y="960.25" width="21.59" height="21.72" fill="#066f06"/>
<rect x="405.59" y="981.67" width="21.59" height="21.72" fill="#068006"/>
<rect x="405.59" y="1003.08" width="21.59" height="21.72" fill="#069706"/>
<rect x="426.89" y="896" width="21.59" height="21.72" fill="#1a1212"/>
<rect x="426.89" y="917.42" width="21.59" height="21.72" fill="#06b806"/>
<rect x="426.89" y="938.83" width="21.59" height="21.72" fill="#06da06"/>
<rect x="426.89" y="960.25" width="21.59" height="21.72" fill="#066206"/>
<rect x="426.89" y="981.67" width="21.59" height="21.72" fill="#06da06"/>
<rect x="426.89" y="1003.08" width="21.59" height="21.72" fill="#06da06"/>
<rect x="448.18" y="896" width="21.59" height="21.72" fill="#7a0808"/>
<rect x="448.18" y="917.42" width="21.59" height="21.72" fill="#069006"/>
<rect x="448.18" y="938.83" width="21.59" height="21.72" fill="#06c906"/>
<rect x="448.18" y="960.25" width="21.59" height="21.72" fill="#069006"/>
<rect x="448.18" y="981.67" width="21.59" height="21.72" fill="#06da06"/>
<rect x="448.18" y="1003.08" width="21.59" height="21.72" fill="#06da06"/>
<rect x="469.48" y="896" width="21.59" height="21.72" fill="#ff0808"/>
<rect x="469.48" y="917.42" width="21.59" height="21.72" fill="#069706"/>
<rect x="469.48" y="938.83" width="21.59" height="21.72" fill="#06eb06"/>
<rect x="469.48" y="960.25" width="21.59" height="21.72" fill="#06eb06"/>
<rect x="469.48" y="981.67" width="21.59" height="21.72" fill="#06eb06"/>
<rect x="469.48" y="1003.08" width="21.59" height="21.72" fill="#06eb06"/>
<rect x="490.77" y="896" width="21.59" height="21.72" fill="#063c06"/>
<rect x="490.77" y="917.42" width="21.59" height="21.72" fill="#068006"/>
<rect x="490.77" y="938.83" width="21.59" height="21.72" fill="#06e206"/>
<rect x="490.77" y="960.25" width="21.59" height="21.72" fill="#06da06"/>
<rect x="490.77" y="981.67" width="21.59" height="21.72" fill="#06da06"/>
<rect x="490.77" y="1003.08" width="21.59" height="21.72" fill="#06da06"/>
<rect x="512.06" y="896" width="21.59" height="21.72" fill="#1a1414"/>
<rect x="512.06" y="917.42" width="21.59" height="21.72" fill="#065e06"/>
<rect x="512.06" y="938.83" width="21.59" height="21.72" fill="#06da06"/>
<rect x="512.06" y="960.25" width="21.59" height="21.72" fill="#06a806"/>
<rect x="512.06" y="981.67" width="21.59" height="21.72" fill="#06da06"/>
<rect x="512.06" y="1003.08" width="21.59" height="21.72" fill="#06d206"/>
<rect x="533.36" y="896" width="21.59" height="21.72" fill="#1a1414"/>
<rect x="533.36" y="917.42" width="21.59" height="21.72" fill="#069006"/>
<rect x="533.36" y="938.83" width="21.59" height="21.72" fill="#06e206"/>
<rect x="533.36" y="960.25" width="21.59" height="21.72" fill="#068006"/>
<rect x="533.36" y="981.67" width="21.59" height="21.72" fill="#06da06"/>
<rect x="533.36" y="1003.08" width="21.59" height="21.72" fill="#06da06"/>
<rect x="554.65" y="896" width="21.59" height="21.72" fill="#1a1414"/>
<rect x="554.65" y="917.42" width="21.59" height="21.72" fill="#066f06"/>
<rect x="554.65" y="938.83" width="21.59" height="21.72" fill="#06d206"/>
<rect x="554.65" y="960.25" width="21.59" height="21.72" fill="#069706"/>
<rect x="554.65" y="981.67" width="21.59" height="21.72" fill="#06da06"/>
<rect x="554.65" y="1003.08" width="21.59" height="21.72" fill="#06da06"/>
<rect x="575.94" y="896" width="21.59" height="21.72" fill="#1a1414"/>
<rect x="575.94" y="917.42" width="21.59" height="21.72" fill="#069706"/>
<rect x="575.94" y="938.83" width="21.59" height="21.72" fill="#06da06"/>
<rect x="575.94" y="960.25" width="21.59" height="21.72" fill="#06c906"/>
<rect x="575.94" y="981.67" width="21.59" height="21.72" fill="#06da06"/>
<rect x="575.94" y="1003.08" width="21.59" height="21.72" fill="#06da06"/>
<rect x="597.24" y="896" width="21.59" height="21.72" fill="#065e06"/>
<rect x="597.24" y="917.42" width="21.59" height="21.72" fill="#152015"/>
<rect x="597.24" y="938.83" width="21.59" height="21.72" fill="#06da06"/>
<rect x="597.24" y="960.25" width="21.59" height="21.72" fill="#06a806"/>
<rect x="597.24" y="981.67" width="21.59" height="21.72" fill="#06c906"/>
<rect x="597.24" y="1003.08" width="21.59" height="21.72" fill="#06e206"/>
<rect x="618.53" y="896" width="21.59" height="21.72" fill="#102010"/>
<rect x="618.53" y="917.42" width="21.59" height="21.72" fill="#063c06"/>
<rect x="618.53" y="938.83" width="21.59" height="21.72" fill="#06e206"/>
<rect x="618.53" y="960.25" width="21.59" height="21.72" fill="#068006"/>
<rect x="618.53" y="981.67" width="21.59" height="21.72" fill="#06da06"/>
<rect x="618.53" y="1003.08" width="21.59" height="21.72" fill="#06da06"/>
<rect x="639.83" y="896" width="21.59" height="21.72" fill="#067506"/>
<rect x="639.83" y="917.42" width="21.59" height="21.72" fill="#066f06"/>
<rect x="639.83" y="938.83" width="21.59" height="21.72" fill="#06da06"/>
<rect x="639.83" y="960.25" width="21.59" height="21.72" fill="#066f06"/>
<rect x="639.83" y="981.67" width="21.59" height="21.72" fill="#06d206"/>
<rect x="639.83" y="1003.08" width="21.59" height="21.72" fill="#06da06"/>
<rect x="661.12" y="896" width="21.59" height="21.72" fill="#6a0808"/>
<rect x="661.12" y="917.42" width="21.59" height="21.72" fill="#065e06"/>
<rect x="661.12" y="938.83" width="21.59" height="21.72" fill="#06da06"/>
<rect x="661.12" y="960.25" width="21.59" height="21.72" fill="#06a806"/>
<rect x="661.12" y="981.67" width="21.59" height="21.72" fill="#06c906"/>
<rect x="661.12" y="1003.08" width="21.59" height="21.72" fill="#06da06"/>
<rect x="682.41" y="896" width="21.59" height="21.72" fill="#9a0808"/>
<rect x="682.41" y="917.42" width="21.59" height="21.72" fill="#064d06"/>
<rect x="682.41" y="938.83" width="21.59" height="21.72" fill="#06da06"/>
<rect x="682.41" y="960.25" width="21.59" height="21.72" fill="#06e206"/>
<rect x="682.41" y="981.67" width="21.59" height="21.72" fill="#06c106"/>
<rect x="682.41" y="1003.08" width="21.59" height="21.72" fill="#06da06"/>
<rect x="703.71" y="896" width="21.59" height="21.72" fill="#063206"/>
<rect x="703.71" y="917.42" width="21.59" height="21.72" fill="#066f06"/>
<rect x="703.71" y="938.83" width="21.59" height="21.72" fill="#06da06"/>
<rect x="703.71" y="960.25" width="21.59" height="21.72" fill="#063c06"/>
<rect x="703.71" y="981.67" width="21.59" height="21.72" fill="#06a806"/>
<rect x="703.71" y="1003.08" width="21.59" height="21.72" fill="#06d206"/>
<line x1="64.89" y1="896" x2="64.89" y2="1024.5" stroke="#fff" stroke-opacity="0.8" stroke-width="1"/>
<line x1="86.19" y1="896" x2="86.19" y2="1024.5" stroke="#fff" stroke-opacity="0.8" stroke-width="1"/>
<line x1="107.48" y1="896" x2="107.48" y2="1024.5" stroke="#fff" stroke-opacity="0.8" stroke-width="1"/>
<line x1="128.78" y1="896" x2="128.78" y2="1024.5" stroke="#fff" stroke-opacity="0.8" stroke-width="1"/>
<line x1="150.07" y1="896" x2="150.07" y2="1024.5" stroke="#fff" stroke-opacity="0.8" stroke-width="1"/>
<line x1="171.36" y1="896" x2="171.36" y2="1024.5" stroke="#fff" stroke-opacity="0.8" stroke-width="1"/>
<line x1="192.66" y1="896" x2="192.66" y2="1024.5" stroke="#fff" stroke-opacity="0.8" stroke-width="1"/>
<line x1="213.95" y1="896" x2="213.95" y2="1024.5" stroke="#fff" stroke-opacity="0.8" stroke-width="1"/>
<line x1="235.24" y1="896" x2="235.24" y2="1024.5" stroke="#fff" stroke-opacity="0.8" stroke-width="1"/>
<line x1="256.54" y1="896" x2="256.54" y2="1024.5" stroke="#fff" stroke-opacity="0.8" stroke-width="1"/>
<line x1="277.83" y1="896" x2="277.83" y2="1024.5" stroke="#fff" stroke-opacity="0.8" stroke-width="1"/>
<line x1="299.12" y1="896" x2="299.12" y2="1024.5" stroke="#fff" stroke-opacity="0.8" stroke-width="1"/>
<line x1="320.42" y1="896" x2="320.42" y2="1024.5" stroke="#fff" stroke-opacity="0.8" stroke-width="1"/>
<line x1="341.71" y1="896" x2="341.71" y2="1024.5" stroke="#fff" stroke-opacity="0.8" stroke-width="1"/>
<line x1="363.01" y1="896" x2="363.01" y2="1024.5" stroke="#fff" stroke-opacity="0.8" stroke-width="1"/>
<line x1="384.3" y1="896" x2="384.3" y2="1024.5" stroke="#fff" stroke-opacity="0.8" stroke-width="1"/>
<line x1="405.59" y1="896" x2="405.59" y2="1024.5" stroke="#fff" stroke-opacity="0.8" stroke-width="1"/>
<line x1="426.89" y1="896" x2="426.89" y2="1024.5" stroke="#fff" stroke-opacity="0.8" stroke-width="1"/>
<line x1="448.18" y1="896" x2="448.18" y2="1024.5" stroke="#fff" stroke-opacity="0.8" stroke-width="1"/>
<line x1="469.48" y1="896" x2="469.48" y2="1024.5" stroke="#fff" stroke-opacity="0.8" stroke-width="1"/>
<line x1="490.77" y1="896" x2="490.77" y2="1024.5" stroke="#fff" stroke-opacity="0.8" stroke-width="1"/>
<line x1="512.06" y1="896" x2="512.06" y2="1024.5" stroke="#fff" stroke-opacity="0.8" stroke-width="1"/>
<line x1="533.36" y1="896" x2="533.36" y2="1024.5" stroke="#fff" stroke-opacity="0.8" stroke-width="1"/>
<line x1="554.65" y1="896" x2="554.65" y2="1024.5" stroke="#fff" stroke-opacity="0.8" stroke-width="1"/>
<line x1="575.94" y1="896" x2="575.94" y2="1024.5" stroke="#fff" stroke-opacity="0.8" stroke-width="1"/>
<line x1="597.24" y1="896" x2="597.24" y2="1024.5" stroke="#fff" stroke-opacity="0.8" stroke-width="1"/>
<line x1="618.53" y1="896" x2="618.53" y2="1024.5" stroke="#fff" stroke-opacity="0.8" stroke-width="1"/>
<line x1="639.83" y1="896" x2="639.83" y2="1024.5" stroke="#fff" stroke-opacity="0.8" stroke-width="1"/>
<line x1="661.12" y1="896" x2="661.12" y2="1024.5" stroke="#fff" stroke-opacity="0.8" stroke-width="1"/>
<line x1="682.41" y1="896" x2="682.41" y2="1024.5" stroke="#fff" stroke-opacity="0.8" stroke-width="1"/>
<line x1="703.71" y1="896" x2="703.71" y2="1024.5" stroke="#fff" stroke-opacity="0.8" stroke-width="1"/>
<line x1="43.6" y1="917.42" x2="725" y2="917.42" stroke="#fff" stroke-opacity="0.8" stroke-width="1"/>
<line x1="43.6" y1="938.83" x2="725" y2="938.83" stroke="#fff" stroke-opacity="0.8" stroke-width="1"/>
<line x1="43.6" y1="960.25" x2="725" y2="960.25" stroke="#fff" stroke-opacity="0.8" stroke-width="1"/>
<line x1="43.6" y1="981.67" x2="725" y2="981.67" stroke="#fff" stroke-opacity="0.8" stroke-width="1"/>
<line x1="43.6" y1="1003.08" x2="725" y2="1003.08" stroke="#fff" stroke-opacity="0.8" stroke-width="1"/>
<path d="M44.6 918.42L63.89 937.83M63.89 918.42L44.6 937.83" stroke="#888" stroke-width="1"/>
<text x="41.2" y="910.95" text-anchor="end" fill="#1a1a1a" style='font-family:"Liberation Serif",serif;font-size:12.3px'>CLDN8</text>
<text x="41.2" y="932" text-anchor="end" fill="#1a1a1a" style='font-family:"Liberation Serif",serif;font-size:12.3px'>IL10</text>
<text x="41.2" y="954.4" text-anchor="end" fill="#1a1a1a" style='font-family:"Liberation Serif",serif;font-size:12.3px'>IL1RN</text>
<text x="41.2" y="974.8" text-anchor="end" fill="#1a1a1a" style='font-family:"Liberation Serif",serif;font-size:12.3px'>IL6</text>
<text x="41.2" y="996.1" text-anchor="end" fill="#1a1a1a" style='font-family:"Liberation Serif",serif;font-size:12.3px'>IL8</text>
<text x="41.2" y="1016.8" text-anchor="end" fill="#1a1a1a" style='font-family:"Liberation Serif",serif;font-size:12.3px'>TNF</text>
<text transform="translate(50.75,862.5) rotate(90)" style='font-family:"Liberation Serif",serif;font-size:12.2px' fill="#1a1a1a">ML 9</text>
<text transform="translate(72.04,862.5) rotate(90)" style='font-family:"Liberation Serif",serif;font-size:12.2px' fill="#1a1a1a">ML 15</text>
<text transform="translate(93.33,862.5) rotate(90)" style='font-family:"Liberation Serif",serif;font-size:12.2px' fill="#1a1a1a">ML 15</text>
<text transform="translate(114.63,862.5) rotate(90)" style='font-family:"Liberation Serif",serif;font-size:12.2px' fill="#1a1a1a">ML 15</text>
<text transform="translate(135.92,862.5) rotate(90)" style='font-family:"Liberation Serif",serif;font-size:12.2px' fill="#1a1a1a">ML 15</text>
<text transform="translate(157.22,862.5) rotate(90)" style='font-family:"Liberation Serif",serif;font-size:12.2px' fill="#1a1a1a">ML 9</text>
<text transform="translate(178.51,862.5) rotate(90)" style='font-family:"Liberation Serif",serif;font-size:12.2px' fill="#1a1a1a">ML 9</text>
<text transform="translate(199.8,862.5) rotate(90)" style='font-family:"Liberation Serif",serif;font-size:12.2px' fill="#1a1a1a">ML 9</text>
<text transform="translate(221.1,862.5) rotate(90)" style='font-family:"Liberation Serif",serif;font-size:12.2px' fill="#1a1a1a">ML 9</text>
<text transform="translate(242.39,862.5) rotate(90)" style='font-family:"Liberation Serif",serif;font-size:12.2px' fill="#1a1a1a">ML 15</text>
<text transform="translate(263.68,862.5) rotate(90)" style='font-family:"Liberation Serif",serif;font-size:12.2px' fill="#1a1a1a">ML 15</text>
<text transform="translate(284.98,862.5) rotate(90)" style='font-family:"Liberation Serif",serif;font-size:12.2px' fill="#1a1a1a">ML 2</text>
<text transform="translate(306.27,862.5) rotate(90)" style='font-family:"Liberation Serif",serif;font-size:12.2px' fill="#1a1a1a">ML 2</text>
<text transform="translate(327.57,862.5) rotate(90)" style='font-family:"Liberation Serif",serif;font-size:12.2px' fill="#1a1a1a">ML 2</text>
<text transform="translate(348.86,862.5) rotate(90)" style='font-family:"Liberation Serif",serif;font-size:12.2px' fill="#1a1a1a">ML 2</text>
<text transform="translate(370.15,862.5) rotate(90)" style='font-family:"Liberation Serif",serif;font-size:12.2px' fill="#1a1a1a">ML 2</text>
<text transform="translate(391.45,862.5) rotate(90)" style='font-family:"Liberation Serif",serif;font-size:12.2px' fill="#1a1a1a">ML 2</text>
<text transform="translate(412.74,862.5) rotate(90)" style='font-family:"Liberation Serif",serif;font-size:12.2px' fill="#1a1a1a">ML 9</text>
<text transform="translate(434.03,862.5) rotate(90)" style='font-family:"Liberation Serif",serif;font-size:12.2px' fill="#1a1a1a">ML 23</text>
<text transform="translate(455.33,862.5) rotate(90)" style='font-family:"Liberation Serif",serif;font-size:12.2px' fill="#1a1a1a">ML 23</text>
<text transform="translate(476.62,862.5) rotate(90)" style='font-family:"Liberation Serif",serif;font-size:12.2px' fill="#1a1a1a">CON</text>
<text transform="translate(497.92,862.5) rotate(90)" style='font-family:"Liberation Serif",serif;font-size:12.2px' fill="#1a1a1a">CON</text>
<text transform="translate(519.21,862.5) rotate(90)" style='font-family:"Liberation Serif",serif;font-size:12.2px' fill="#1a1a1a">ML 23</text>
<text transform="translate(540.5,862.5) rotate(90)" style='font-family:"Liberation Serif",serif;font-size:12.2px' fill="#1a1a1a">ML 23</text>
<text transform="translate(561.8,862.5) rotate(90)" style='font-family:"Liberation Serif",serif;font-size:12.2px' fill="#1a1a1a">ML 23</text>
<text transform="translate(583.09,862.5) rotate(90)" style='font-family:"Liberation Serif",serif;font-size:12.2px' fill="#1a1a1a">CON</text>
<text transform="translate(604.38,862.5) rotate(90)" style='font-family:"Liberation Serif",serif;font-size:12.2px' fill="#1a1a1a">CON</text>
<text transform="translate(625.68,862.5) rotate(90)" style='font-family:"Liberation Serif",serif;font-size:12.2px' fill="#1a1a1a">ML 23</text>
<text transform="translate(646.97,862.5) rotate(90)" style='font-family:"Liberation Serif",serif;font-size:12.2px' fill="#1a1a1a">CON</text>
<text transform="translate(668.27,862.5) rotate(90)" style='font-family:"Liberation Serif",serif;font-size:12.2px' fill="#1a1a1a">CON</text>
<text transform="translate(689.56,862.5) rotate(90)" style='font-family:"Liberation Serif",serif;font-size:12.2px' fill="#1a1a1a">CON</text>
<text transform="translate(710.85,862.5) rotate(90)" style='font-family:"Liberation Serif",serif;font-size:12.2px' fill="#1a1a1a">CON</text>
<path d="M54.25 856.3H394.95" stroke="#444" stroke-width="1" fill="none"/>
<path d="M54.25 856.3v2.5" stroke="#444" stroke-width="1" fill="none"/>
<path d="M75.54 856.3v2.5" stroke="#444" stroke-width="1" fill="none"/>
<path d="M96.83 856.3v2.5" stroke="#444" stroke-width="1" fill="none"/>
<path d="M118.13 856.3v2.5" stroke="#444" stroke-width="1" fill="none"/>
<path d="M139.42 856.3v2.5" stroke="#444" stroke-width="1" fill="none"/>
<path d="M160.72 856.3v2.5" stroke="#444" stroke-width="1" fill="none"/>
<path d="M182.01 856.3v2.5" stroke="#444" stroke-width="1" fill="none"/>
<path d="M203.3 856.3v2.5" stroke="#444" stroke-width="1" fill="none"/>
<path d="M224.6 856.3v2.5" stroke="#444" stroke-width="1" fill="none"/>
<path d="M245.89 856.3v2.5" stroke="#444" stroke-width="1" fill="none"/>
<path d="M267.18 856.3v2.5" stroke="#444" stroke-width="1" fill="none"/>
<path d="M288.48 856.3v2.5" stroke="#444" stroke-width="1" fill="none"/>
<path d="M309.77 856.3v2.5" stroke="#444" stroke-width="1" fill="none"/>
<path d="M331.07 856.3v2.5" stroke="#444" stroke-width="1" fill="none"/>
<path d="M352.36 856.3v2.5" stroke="#444" stroke-width="1" fill="none"/>
<path d="M373.65 856.3v2.5" stroke="#444" stroke-width="1" fill="none"/>
<path d="M394.95 856.3v2.5" stroke="#444" stroke-width="1" fill="none"/>
<path d="M416.24 856.3v2.5" stroke="#444" stroke-width="1" fill="none"/>
<path d="M437.53 856.3v2.5" stroke="#444" stroke-width="1" fill="none"/>
<path d="M458.83 856.3v2.5" stroke="#444" stroke-width="1" fill="none"/>
<path d="M480.12 856.3v2.5" stroke="#444" stroke-width="1" fill="none"/>
<path d="M501.42 856.3v2.5" stroke="#444" stroke-width="1" fill="none"/>
<path d="M522.71 856.3v2.5" stroke="#444" stroke-width="1" fill="none"/>
<path d="M544 856.3v2.5" stroke="#444" stroke-width="1" fill="none"/>
<path d="M565.3 856.3v2.5" stroke="#444" stroke-width="1" fill="none"/>
<path d="M586.59 856.3v2.5" stroke="#444" stroke-width="1" fill="none"/>
<path d="M607.88 856.3v2.5" stroke="#444" stroke-width="1" fill="none"/>
<path d="M629.18 856.3v2.5" stroke="#444" stroke-width="1" fill="none"/>
<path d="M650.47 856.3v2.5" stroke="#444" stroke-width="1" fill="none"/>
<path d="M671.77 856.3v2.5" stroke="#444" stroke-width="1" fill="none"/>
<path d="M693.06 856.3v2.5" stroke="#444" stroke-width="1" fill="none"/>
<path d="M714.35 856.3v2.5" stroke="#444" stroke-width="1" fill="none"/>
<path d="M224.6 856.3V845.2H416.24V856.3" stroke="#444" stroke-width="1" fill="none"/>
<path d="M320.42 845.2V799.2" stroke="#444" stroke-width="1" fill="none"/>
<path d="M437.53 856.3H480.12" stroke="#444" stroke-width="1" fill="none"/>
<path d="M501.42 856.3H693.06" stroke="#444" stroke-width="1" fill="none"/>
<path d="M597.24 856.3V846.5H714.35V856.3" stroke="#444" stroke-width="1" fill="none"/>
<path d="M458.83 856.3V827H655.8V846.5" stroke="#444" stroke-width="1" fill="none"/>
<path d="M557.31 827V799.2H320.42" stroke="#444" stroke-width="1" fill="none"/>
</svg>
</body></html>
